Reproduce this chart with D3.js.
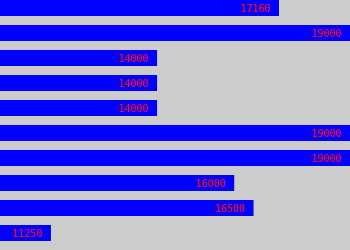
<!DOCTYPE html>
<html>
<head>
<meta charset="utf-8">
<script src="https://cdn.jsdelivr.net/npm/d3@7"></script>
<style>
body { margin: 0; background: #cccccc; }
svg { display: block; }
</style>
</head>
<body>
<div id="chart-area"></div>
<script>
const WIDTH = 350
const HEIGHT = 250

// one entry per bar, top to bottom
const categories = ['a', 'b', 'c', 'd', 'e', 'f', 'g', 'h', 'i', 'j']
const values = [17160, 19000, 14000, 14000, 14000, 19000, 19000, 16000, 16500, 11250]

const data = categories.map((c, i) => ({ name: c, value: values[i] }))

const svg = d3.select('#chart-area')
.append('svg')
.attr('width', WIDTH)
.attr('height', HEIGHT)

svg.append('rect')
.attr('width', WIDTH)
.attr('height', HEIGHT)
.attr('fill', '#cccccc')

const y = d3.scaleBand()
.domain(categories)
.range([0, HEIGHT])
.paddingInner(0.36)
.paddingOuter(0.18)
.align(0)

const x = d3.scaleLinear()
.domain([9930, 19000])
.range([0, WIDTH])

svg.selectAll('rect.bar')
.data(data)
.enter().append('rect')
.attr('class', 'bar')
.attr('x', 0)
.attr('y', d => y(d.name))
.attr('width', d => x(d.value))
.attr('height', y.bandwidth())
.attr('fill', '#0000ff')

svg.selectAll('text.label')
.data(data)
.enter().append('text')
.attr('class', 'label')
.attr('x', d => x(d.value) - 9)
.attr('y', d => y(d.name) + y.bandwidth() / 2 + 4)
.attr('text-anchor', 'end')
.attr('font-family', 'DejaVu Sans Mono, monospace')
.attr('font-size', '10px')
.attr('fill', '#ff0000')
.text(d => d.value)
</script>
</body>
</html>
